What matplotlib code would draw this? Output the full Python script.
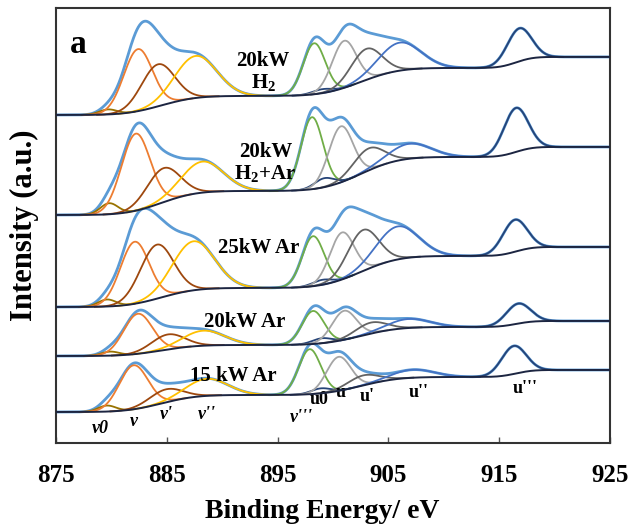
import matplotlib
matplotlib.use("Agg")
import matplotlib.pyplot as plt
import numpy as np
from math import erf

plt.rcParams["font.family"] = ["Liberation Serif", "DejaVu Serif"]
plt.rcParams["mathtext.default"] = "regular"

# sample labels, top to bottom
SAMPLES: list[str] = ["20kW\nH$_2$", "20kW\nH$_2$+Ar", "25kW Ar", "20kW Ar", "15 kW Ar"]
SAMPLE_LABEL_X: list[float] = [893.7, 893.9, 893.3, 892.0, 891.0]
SAMPLE_LABEL_Y: list[float] = [375, 284, 199, 125, 71]

PEAK_NAMES: list[str] = ["v0", "v", "v'", "v''", "v'''", "u0", "u", "u'", "u''", "u'''"]
PEAK_COLORS: list[str] = ["#997300", "#ED7D31", "#9E480E", "#FFC000", "#70AD47",
                          "#264478", "#A5A5A5", "#636363", "#4472C4", "#264478"]
PEAK_SIGMAS: list[float] = [0.8, 1.3, 1.5, 1.9, 1.0, 0.9, 1.1, 1.4, 1.9, 1.1]

# fitted peak centres (eV) for each spectrum
PEAK_CENTERS: list[list[float]] = [
    [879.7, 882.4, 884.2, 887.6, 898.3, 899.0, 901.0, 903.0, 906.0, 916.8],
    [879.8, 882.2, 884.7, 888.2, 898.1, 899.2, 900.7, 903.2, 906.9, 916.5],
    [879.6, 882.1, 884.1, 887.4, 898.2, 899.0, 900.8, 902.7, 905.8, 916.4],
    [879.9, 882.4, 885.1, 888.3, 898.2, 899.0, 901.0, 903.4, 906.8, 916.7],
    [879.6, 882.0, 884.9, 888.6, 897.9, 898.9, 900.5, 902.7, 907.2, 916.3],
]
# peak heights above background (a.u.)
PEAK_HEIGHTS: list[list[float]] = [
    [5, 62, 42, 42, 51, 4, 47, 31, 28, 33],
    [11, 77, 34, 31, 72, 9, 56, 22, 15, 44],
    [7, 62, 54, 49, 50, 5, 47, 41, 33, 32],
    [4, 40, 15, 15, 33, 5, 29, 11, 9, 20],
    [6, 44, 13, 17, 45, 5, 34, 10, 8, 28],
]

# background: offset level at low BE plus three steps
BASE_LEFT: list[float] = [332, 232, 140, 91, 35]
STEP_V: list[float] = [19, 24, 19, 11, 17]
STEP_U: list[float] = [28, 34, 32, 18, 18]
STEP_U3: list[float] = [11, 10, 9, 6, 7]
STEP_CENTERS: list[float] = [884.5, 902.5, 916.5]
STEP_WIDTHS: list[float] = [2.5, 2.7, 1.2]

LABEL_X: list[float] = [879.0, 882.0, 885.0, 888.6, 897.1, 898.7, 900.7, 903.1, 907.7, 917.3]
LABEL_Y: list[float] = [18, 25, 32, 32, 29, 47, 54, 50, 54, 58]

X_TICKS: list[int] = [875, 885, 895, 905, 915, 925]


def step(x: np.ndarray, c: float, s: float) -> np.ndarray:
    return np.array([0.5 * (1 + erf((xi - c) / (np.sqrt(2) * s))) for xi in x])


def main() -> None:
    x = np.linspace(875, 925, 1200)
    fig = plt.figure(figsize=(6.29, 5.28), dpi=100)
    ax = fig.add_axes([0.089, 0.161, 0.881, 0.824])

    for i in range(len(SAMPLES)):
        amps = [STEP_V[i], STEP_U[i], STEP_U3[i]]
        base = BASE_LEFT[i] + sum(a * step(x, c, s) for a, c, s in zip(amps, STEP_CENTERS, STEP_WIDTHS))
        comps = [h * np.exp(-0.5 * ((x - c) / s) ** 2)
                 for c, h, s in zip(PEAK_CENTERS[i], PEAK_HEIGHTS[i], PEAK_SIGMAS)]
        envelope = base + np.sum(comps, axis=0)
        ax.plot(x, envelope, color="#5B9BD5", lw=2.0, zorder=2)
        for comp, col in zip(comps, PEAK_COLORS):
            mask = comp > 0.05
            ax.plot(x[mask], (base + comp)[mask], color=col, lw=1.3, zorder=3)
        ax.plot(x, base, color="#1c2541", lw=1.4, zorder=4)
        ax.text(SAMPLE_LABEL_X[i], SAMPLE_LABEL_Y[i], SAMPLES[i], ha="center", va="center",
                fontsize=15, fontweight="bold", linespacing=1.1, zorder=5)

    for name, lx, ly in zip(PEAK_NAMES, LABEL_X, LABEL_Y):
        style = "italic" if name.startswith("v") else "normal"
        ax.text(lx, ly, name, ha="center", va="center", fontsize=13,
                fontweight="bold", fontstyle=style)

    ax.text(877.0, 402, "a", ha="center", va="center", fontsize=24, fontweight="bold")

    ax.set_xlim(875, 925)
    ax.set_ylim(4, 439)
    ax.set_xticks(X_TICKS)
    ax.set_yticks([])
    ax.tick_params(axis="x", direction="in", length=4, width=1, pad=15,
                   labelsize=18, colors="#555555", labelcolor="black")
    for lbl in ax.get_xticklabels():
        lbl.set_fontweight("bold")
    for sp in ax.spines.values():
        sp.set_color("#333333")
        sp.set_linewidth(1.5)

    ax.set_xlabel("Binding Energy/ eV", fontsize=20, fontweight="bold")
    ax.xaxis.set_label_coords(0.48, -0.128)
    ax.set_ylabel("Intensity (a.u.)", fontsize=22, fontweight="bold")
    ax.yaxis.set_label_coords(-0.03, 0.5)

    fig.savefig("out.png", dpi=100)


if __name__ == "__main__":
    main()
